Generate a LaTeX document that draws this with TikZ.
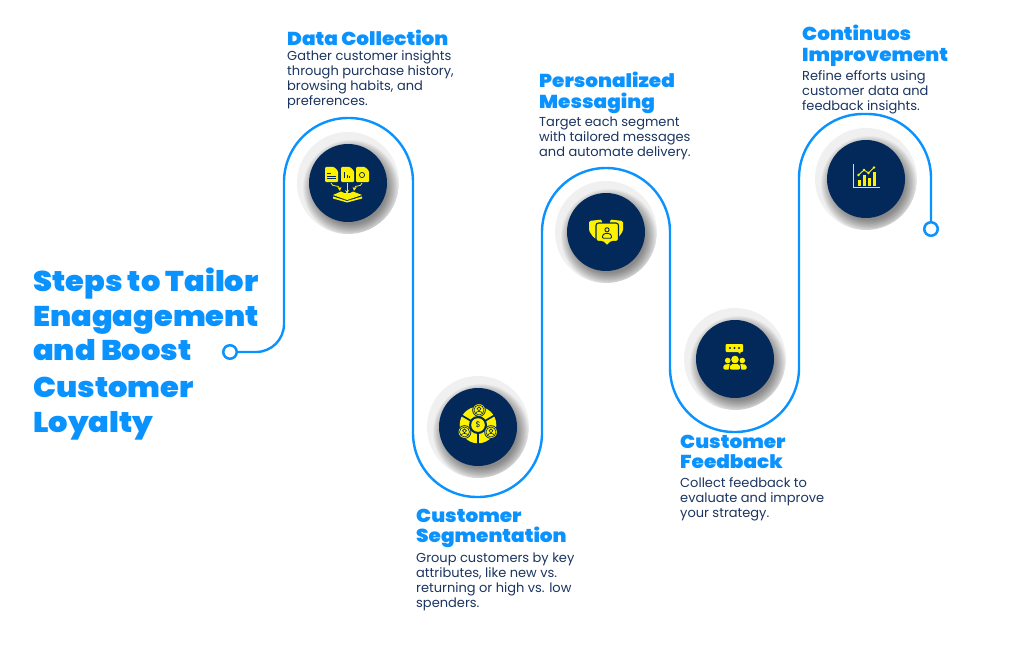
\documentclass[tikz,border=0pt]{standalone}
\usepackage{fontspec}
\setmainfont{Poppins}
\newfontfamily\ttlfont[FakeStretch=1.07]{Poppins Black}
\definecolor{brandblue}{HTML}{0A93FF}
\definecolor{navy}{HTML}{03295A}
\definecolor{iconyel}{HTML}{FFF200}
\definecolor{bodyink}{HTML}{1B3560}
\definecolor{halo}{HTML}{F0F0F0}
\tikzset{
  x=1pt,y=-1pt,
  ttl/.style={anchor=base west,inner sep=0pt,text=brandblue,font=\ttlfont\fontsize{28.5}{28.5}\selectfont},
  head/.style={anchor=base west,inner sep=0pt,text=brandblue,font=\ttlfont\fontsize{18.7}{18.7}\selectfont},
  bodytxt/.style={anchor=north west,inner sep=0pt,align=left,text=bodyink,font=\fontsize{13}{15}\selectfont},
  ring/.style={circle,draw=brandblue,fill=white,line width=2.5pt,minimum size=13.5pt,inner sep=0pt},
  route/.style={draw=brandblue,line width=2.4pt},
  disc/.style={circle,fill=navy,minimum size=78pt,inner sep=0pt},
  ic/.style={fill=iconyel,draw=none},
  icn/.style={fill=navy,draw=none},
}
\newcommand{\badge}[3]{%
  \begin{scope}
    \fill[halo] (#1,#2) circle[radius=51pt];
    \clip (#1,#2) circle[radius=51pt];
    \foreach \r in {48,47.2,46.4,45.6,44.8,44,43.2,42.4,41.6,40.8,40,39.2,38.4,37.6,36.8,36}{
      \fill[black,opacity=0.03] (#1+3,#2+5) circle[radius=\r pt];
    }
  \end{scope}
  \node[disc] (#3) at (#1,#2) {};
}
\begin{document}
\begin{tikzpicture}
\useasboundingbox[fill=white] (0,0) rectangle (1024,655);
% route
\node[ring] (startring) at (230,352) {};
\node[ring] (endring) at (931,229) {};
\badge{348}{183}{bA}
\badge{478}{427}{bB}
\badge{606}{232}{bC}
\badge{735}{359}{bD}
\badge{866}{179}{bE}
\draw[route] (startring.east) [rounded corners=28pt] -- (284,352) [rounded corners=64pt] -- (284,118) -- (413,118) -- (413,497) -- (542,497) -- (542,168) -- (670,168) -- (670,432) -- (799,432) -- (799,114) -- (931,114) [sharp corners] -- (endring.north);
% title
\node[ttl] (t1) at (33,291) {Steps to Tailor};
\node[ttl] (t2) at (33,326) {Enagagement};
\node[ttl] (t3) at (33,360) {and Boost};
\node[ttl] (t4) at (33,397) {Customer};
\node[ttl] (t5) at (33,432) {Loyalty};
% step 1
\node[head] (h1) at (287,46) {Data Collection};
\node[bodytxt] (d1) at (287,50.5) {Gather customer insights\\through purchase history,\\browsing habits, and\\preferences.};
% step 2
\node[head] (h2a) at (416,522) {Customer};
\node[head] (h2b) at (416,542) {Segmentation};
\node[bodytxt] (d2) at (416,553) {Group customers by key\\attributes, like new vs.\\returning or high vs. low\\spenders.};
% step 3
\node[head] (h3a) at (539,88) {Personalized};
\node[head] (h3b) at (539,109) {Messaging};
\node[bodytxt] (d3) at (539,116.5) {Target each segment\\with tailored messages\\and automate delivery.};
% step 4
\node[head] (h4a) at (680,448) {Customer};
\node[head] (h4b) at (680,468) {Feedback};
\node[bodytxt] (d4) at (680,477.5) {Collect feedback to\\evaluate and improve\\your strategy.};
% step 5
\node[head] (h5a) at (802,41) {Continuos};
\node[head] (h5b) at (802,61.5) {Improvement};
\node[bodytxt] (d5) at (802,70) {Refine efforts using\\customer data and\\feedback insights.};
% icon 1: files into tray
\foreach \xx in {325,341,356}{
  \fill[ic,rounded corners=1pt] (\xx,167) -- (\xx+9,167) -- (\xx+13,171) -- (\xx+13,182) -- (\xx,182) -- cycle;
}
\draw[navy,line width=.7pt] (327,173) -- (331,173) (327,176) -- (336,176) (327,178.5) -- (336,178.5);
\draw[navy,line width=.8pt] (344,172) -- (344,178) (347,175) -- (347,178) (349.5,176) -- (349.5,178);
\draw[navy,line width=.7pt] (362,175) circle[radius=2.6pt];
\draw[iconyel,line width=.8pt,-stealth] (331,183) .. controls (332,188) and (339,184) .. (340,191);
\draw[iconyel,line width=.8pt,-stealth] (347,183) -- (347,194);
\draw[iconyel,line width=.8pt,-stealth] (362,183) .. controls (361,188) and (355,184) .. (354,191);
\fill[ic] (333,195) -- (341,191.5) -- (344,193) -- (350,193) -- (353,191.5) -- (362,195) -- (347,200) -- cycle;
\fill[ic] (333,196.5) -- (347,201) -- (362,196.5) -- (362,198.5) -- (347,202.5) -- (333,198.5) -- cycle;
% icon 2: wheel
\fill[ic] (478,425) circle[radius=18.3pt];
\draw[navy,line width=1.7pt] (478,425) -- (478,444) (478,425) -- (461,415) (478,425) -- (495,415);
\fill[icn] (478,425) circle[radius=9pt];
\fill[ic] (478,425) circle[radius=6.8pt];
\node[inner sep=0pt,text=navy,font=\fontsize{8}{8}\selectfont] (dollar) at (478,425) {\$};
\foreach \cx/\cy in {479/410,464.5/432,491/432}{
  \fill[icn] (\cx,\cy) circle[radius=6.8pt];
  \fill[ic] (\cx,\cy) circle[radius=5.9pt];
  \draw[navy,line width=.6pt] (\cx,\cy) circle[radius=5pt];
  \draw[navy,line width=.6pt] (\cx,\cy-1.2) circle[radius=1.9pt];
  \draw[navy,line width=.6pt] (\cx-3.3,\cy+3.4) .. controls (\cx-3.3,\cy+0.8) and (\cx+3.3,\cy+0.8) .. (\cx+3.3,\cy+3.4);
}
% icon 3: speech bubbles
\fill[ic,rounded corners=1.5pt] (589,221) -- (602,219.5) -- (602,241) -- (594,238) -- (589,231) -- cycle;
\fill[ic,rounded corners=1.5pt] (623,221) -- (610,219.5) -- (610,241) -- (618,238) -- (623,231) -- cycle;
\fill[ic,draw=navy,line width=1.1pt,rounded corners=2.5pt] (596,223) -- (618.5,223) -- (618.5,241.5) -- (610.5,241.5) -- (607,246.5) -- (603.5,241.5) -- (596,241.5) -- cycle;
\draw[navy,line width=.9pt] (607,229.8) circle[radius=2.1pt];
\draw[navy,line width=.9pt,fill=iconyel,rounded corners=1pt] (602.5,238.2) -- (602.5,235.5) -- (604.5,233.5) -- (609.5,233.5) -- (611.5,235.5) -- (611.5,238.2) -- cycle;
% icon 4: feedback group
\fill[ic,rounded corners=1pt] (725.5,344) rectangle (743,352);
\fill[ic] (737,351) -- (741,351) -- (740,354) -- cycle;
\foreach \sx in {730,734.5,739}{\fill[icn] (\sx,348) circle[radius=1.2pt];}
\fill[ic] (735,359.5) circle[radius=3.8pt];
\fill[ic] (727.7,360.5) circle[radius=2.8pt];
\fill[ic] (742.3,360.5) circle[radius=2.8pt];
\fill[ic,rounded corners=1.5pt] (723,369.5) -- (723.8,364.5) -- (731,364) -- (732,369.5) -- cycle;
\fill[ic,rounded corners=1.5pt] (747,369.5) -- (746.2,364.5) -- (739,364) -- (738,369.5) -- cycle;
\fill[navy] (728.6,370) -- (730,363) -- (740,363) -- (741.4,370) -- cycle;
\fill[ic,rounded corners=2pt] (729.5,369.5) -- (730.5,364) -- (739.5,364) -- (740.5,369.5) -- cycle;
% icon 5: chart
\draw[iconyel,line width=.9pt] (853,164) -- (853,187.5) -- (880,187.5);
\fill[ic] (857.5,180) rectangle (861,186);
\fill[ic] (862.5,175) rectangle (866,186);
\fill[ic] (867.5,177.5) rectangle (871,186);
\fill[ic] (872.5,172) rectangle (876,186);
\draw[iconyel,line width=.9pt] (858.5,175) -- (864,170) -- (868.5,173) -- (874,167.5);
\foreach \px/\py in {858.5/175,864/170,868.5/173,874/167.5}{\fill[ic] (\px,\py) circle[radius=1.4pt];}
\end{tikzpicture}
\end{document}
